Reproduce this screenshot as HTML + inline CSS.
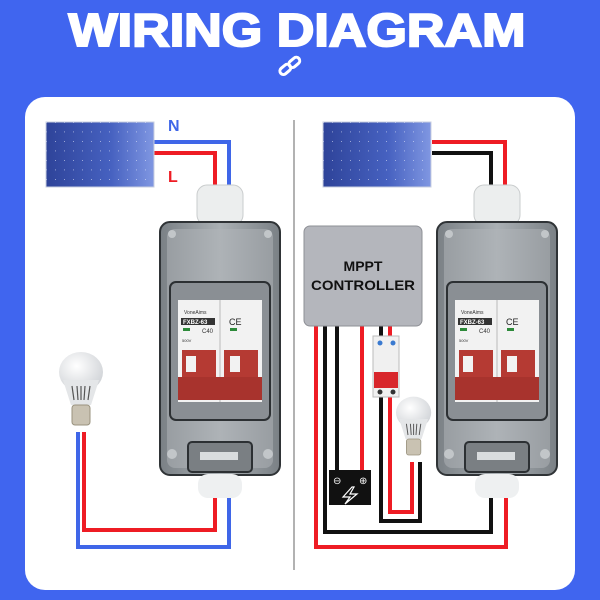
<!DOCTYPE html>
<html><head><meta charset="utf-8"><style>html,body{margin:0;padding:0;background:#4065ef}svg{display:block}</style></head>
<body>
<svg width="600" height="600" viewBox="0 0 600 600" xmlns="http://www.w3.org/2000/svg" font-family="Liberation Sans, sans-serif">
<defs>
<pattern id="cells" width="9" height="9.5" patternUnits="userSpaceOnUse"><rect width="9" height="9.5" fill="none"/><circle cx="0" cy="0" r="1" fill="#f0f3ff"/></pattern>
<linearGradient id="pg" x1="0" x2="1"><stop offset="0" stop-color="#2e4399"/><stop offset="0.6" stop-color="#4661c0"/><stop offset="1" stop-color="#8097e2"/></linearGradient>
<linearGradient id="boxg" x1="0" x2="1"><stop offset="0" stop-color="#7a8085"/><stop offset="0.5" stop-color="#aab0b4"/><stop offset="1" stop-color="#7a8085"/></linearGradient>
<radialGradient id="bulb" cx="0.4" cy="0.35" r="0.7"><stop offset="0" stop-color="#ffffff"/><stop offset="1" stop-color="#cfd2d6"/></radialGradient>
<g id="panel"><rect x="0" y="0" width="108" height="65" fill="url(#pg)" stroke="#c8cfe0"/><rect x="0" y="0" width="108" height="65" fill="url(#cells)" opacity="0.7"/></g>
<g id="box">
<rect x="37" y="-37" width="46" height="40" rx="10" fill="#eceeee" stroke="#c9cccd"/>
<rect x="0" y="0" width="120" height="253" rx="10" fill="url(#boxg)" stroke="#2f3336" stroke-width="2"/>
<rect x="7" y="7" width="106" height="239" rx="8" fill="#b1b6ba" opacity="0.5"/>
<circle cx="12" cy="12" r="4" fill="#c2c6c9"/><circle cx="108" cy="12" r="4" fill="#c2c6c9"/>
<rect x="10" y="60" width="100" height="138" rx="6" fill="#8a8f94" stroke="#2c3033" stroke-width="2"/>
<rect x="18" y="78" width="84" height="102" fill="#f2f2f2"/>
<line x1="60" y1="78" x2="60" y2="180" stroke="#bbb"/>
<text x="24" y="92" font-size="5" fill="#333">VoneAims</text>
<rect x="21" y="96" width="34" height="7" fill="#333"/><text x="23" y="102" font-size="6" fill="#fff" font-weight="bold">FXBZ-63</text>
<text x="69" y="103" font-size="9" fill="#222">CE</text>
<text x="42" y="111" font-size="6" fill="#333">C40</text>
<rect x="23" y="106" width="7" height="3" fill="#2d8a3a"/><rect x="70" y="106" width="7" height="3" fill="#2d8a3a"/>
<text x="22" y="120" font-size="4" fill="#333">500V</text>
<rect x="22" y="128" width="34" height="48" fill="#b53a33"/><rect x="64" y="128" width="34" height="48" fill="#b53a33"/>
<rect x="18" y="155" width="84" height="23" fill="#a8332d"/>
<rect x="26" y="134" width="10" height="16" fill="#f2f2f2"/><rect x="70" y="134" width="10" height="16" fill="#f2f2f2"/>
<rect x="28" y="220" width="64" height="30" rx="4" fill="#7a7f83" stroke="#2c3033" stroke-width="2"/>
<rect x="40" y="230" width="38" height="8" fill="#d9dcde"/>
<circle cx="12" cy="232" r="5" fill="#c2c6c9"/><circle cx="108" cy="232" r="5" fill="#c2c6c9"/>
<rect x="38" y="252" width="44" height="24" rx="10" fill="#eef0f1"/>
</g>
<g id="bulbg">
<ellipse cx="22" cy="22" rx="22" ry="20" fill="url(#bulb)"/>
<path d="M4 30 L40 30 L32 55 L12 55 Z" fill="#e4e6e8"/>
<g stroke="#555" stroke-width="1.2"><line x1="13" y1="36" x2="15" y2="50"/><line x1="18" y1="36" x2="19" y2="50"/><line x1="22" y1="36" x2="22" y2="50"/><line x1="26" y1="36" x2="25" y2="50"/><line x1="31" y1="36" x2="29" y2="50"/></g>
<rect x="13" y="55" width="18" height="20" rx="3" fill="#c9c2b2" stroke="#9a937f"/>
</g>
</defs>
<rect width="600" height="600" fill="#4065ef"/>
<text x="297" y="46" text-anchor="middle" font-size="46" font-weight="bold" fill="#fff" stroke="#fff" stroke-width="2" textLength="457" lengthAdjust="spacingAndGlyphs">WIRING DIAGRAM</text>
<g fill="none" stroke="#fff" stroke-width="3"><rect x="279" y="66" width="12" height="7" rx="3.5" transform="rotate(-40 285 69)"/><rect x="288" y="59" width="12" height="7" rx="3.5" transform="rotate(-40 294 62)"/></g>
<rect x="25" y="97" width="550" height="493" rx="20" fill="#fff"/>
<line x1="294" y1="120" x2="294" y2="570" stroke="#999" stroke-width="1.5"/>

<g fill="none" stroke-width="4">
<polyline points="154,142 229,142 229,190" stroke="#3f66e8"/>
<polyline points="154,153 215,153 215,188" stroke="#ee1c24"/>
<polyline points="229,495 229,547 78,547 78,432" stroke="#3f66e8"/>
<polyline points="215,495 215,530 84,530 84,432" stroke="#ee1c24"/>
</g>
<use href="#panel" x="46" y="122"/>
<text x="168" y="131" font-size="16" font-weight="bold" fill="#3f66e8">N</text>
<text x="168" y="182" font-size="16" font-weight="bold" fill="#ee1c24">L</text>
<use href="#box" x="160" y="222"/>
<use href="#bulbg" x="59" y="350"/>

<g fill="none" stroke-width="4">
<polyline points="432,142 505,142 505,190" stroke="#ee1c24"/>
<polyline points="432,153 491,153 491,190" stroke="#111"/>
<polyline points="316,320 316,547 506,547 506,495" stroke="#ee1c24"/>
<polyline points="325,320 325,532 491,532 491,495" stroke="#111"/>
<polyline points="337,320 337,470" stroke="#111"/>
<polyline points="362,320 362,470" stroke="#ee1c24"/>
<polyline points="381,320 381,521 420,521 420,462" stroke="#111"/>
<polyline points="390,320 390,512 412,512 412,462" stroke="#ee1c24"/>
</g>
<use href="#panel" x="323" y="122"/>
<use href="#box" x="437" y="222"/>
<rect x="304" y="226" width="118" height="100" rx="6" fill="#b4b6bc" stroke="#8e9096"/>
<text x="363" y="271" text-anchor="middle" font-size="14" font-weight="bold" fill="#111">MPPT</text>
<text x="363" y="290" text-anchor="middle" font-size="14" font-weight="bold" fill="#111" textLength="104" lengthAdjust="spacingAndGlyphs">CONTROLLER</text>
<rect x="373" y="336" width="26" height="61" fill="#f0f0f0" stroke="#bbb"/>
<circle cx="380" cy="343" r="2.5" fill="#3a7ad0"/><circle cx="393" cy="343" r="2.5" fill="#3a7ad0"/>
<rect x="374" y="372" width="24" height="16" fill="#d8262b"/>
<circle cx="380" cy="392" r="2.5" fill="#333"/><circle cx="393" cy="392" r="2.5" fill="#333"/>
<rect x="329" y="470" width="42" height="35" fill="#111"/>
<text x="333" y="484" font-size="10" fill="#fff">⊖</text><text x="359" y="484" font-size="10" fill="#fff">⊕</text>
<path d="M352 487 L343 497 L350 497 L345 504 L357 494 L350 494 L354 487Z" fill="none" stroke="#fff" stroke-width="1.2"/>
<use href="#bulbg" x="396" y="395" transform="translate(396 395) scale(0.8) translate(-396 -395)"/>
</svg>
</body></html>
